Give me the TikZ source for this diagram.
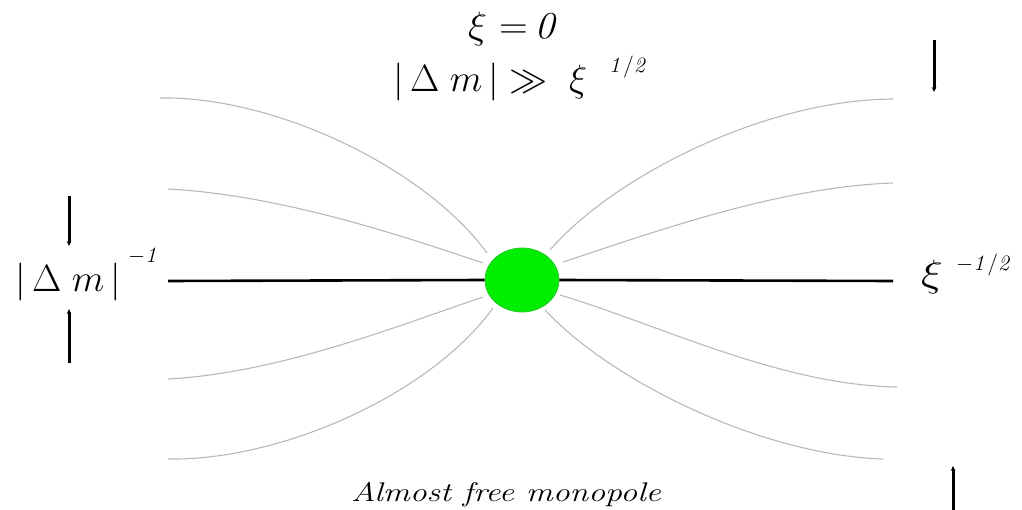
\RequirePackage{fix-cm}
\documentclass[tikz,border=0pt]{standalone}
\usepackage{graphicx}
\usetikzlibrary{arrows.meta,shapes.geometric}
\definecolor{mono}{RGB}{0,238,0}
\definecolor{monoedge}{RGB}{40,200,40}
\begin{document}
\begin{tikzpicture}[x=1pt,y=-1pt,
  field/.style={draw=black!28,line width=1.1pt},
  axis/.style={draw=black,line width=2.6pt},
  marker/.style={draw=black,line width=3pt,-{Stealth[length=5pt,width=4.5pt]}},
  lbl/.style={inner sep=0pt,font=\fontsize{38}{44}\selectfont},
  sup/.style={inner sep=0pt,font=\fontsize{22}{26}\selectfont}]
\useasboundingbox (0,0) rectangle (1022,510);
% monopole
\node[ellipse,minimum width=74pt,minimum height=64pt,inner sep=0pt,fill=mono,draw=monoedge,line width=0.8pt] (M) at (522,280) {};
% field lines
\coordinate (a1) at (160,98);  \coordinate (b1) at (487,253);
\coordinate (a2) at (168,189); \coordinate (b2) at (483,263);
\coordinate (a3) at (168,379); \coordinate (b3) at (483,297);
\coordinate (a4) at (168,459); \coordinate (b4) at (493,308);
\coordinate (c1) at (893,99);  \coordinate (d1) at (550,250);
\coordinate (c2) at (893,183); \coordinate (d2) at (563,262);
\coordinate (c3) at (897,387); \coordinate (d3) at (560,295);
\coordinate (c4) at (883,459); \coordinate (d4) at (545,310);
\draw[field] (a1) .. controls (275,96) and (425,168) .. (b1);
\draw[field] (a2) .. controls (280,195) and (400,235) .. (b2);
\draw[field] (a3) .. controls (280,373) and (400,325) .. (b3);
\draw[field] (a4) .. controls (280,461) and (430,395) .. (b4);
\draw[field] (c1) .. controls (760,100) and (610,180) .. (d1);
\draw[field] (c2) .. controls (780,187) and (660,230) .. (d2);
\draw[field] (c3) .. controls (780,385) and (660,325) .. (d3);
\draw[field] (c4) .. controls (760,455) and (610,380) .. (d4);
% axis
\coordinate (L) at (168,281);
\coordinate (R) at (893,281);
\draw[axis] (L) -- (M.west);
\draw[axis] (M.east) -- (R);
% markers
\coordinate (lt0) at (69,196); \coordinate (lt1) at (69,246);
\coordinate (lb0) at (69,363); \coordinate (lb1) at (69,309);
\coordinate (rt0) at (934,40); \coordinate (rt1) at (934,92);
\coordinate (rb0) at (953,510); \coordinate (rb1) at (953,466);
\draw[marker] (lt0) -- (lt1);
\draw[marker] (lb0) -- (lb1);
\draw[marker] (rt0) -- (rt1);
\draw[marker] (rb0) -- (rb1);
% labels
\node[lbl,anchor=base] (t1) at (514,39) {\scalebox{1.05}[1]{$\xi\ {=}\,\mathit{0}$}};
\node[lbl,anchor=base west] (t2) at (393,92) {$|\,\Delta\; m\,|\; {\gg}\;\; \xi$};
\node[sup,anchor=base west] (t2s) at (609,73) {$\mathit{1/2}$};
\node[lbl,anchor=base west] (lm) at (15,292) {$|\,\Delta\; m\,|$};
\node[sup,anchor=base west] (lms) at (128,263) {$-\mathit{1}$};
\node[lbl,anchor=base west] (rx) at (921,287) {\scalebox{1.2}[1]{$\xi$}};
\node[sup,anchor=base west] (rxs) at (956,271) {$-\mathit{1/2}$};
\node[inner sep=0pt,anchor=base,font=\fontsize{27}{32}\selectfont\itshape] (cap) at (506,501) {\scalebox{1.25}[1]{Almost free monopole}};
\end{tikzpicture}
\end{document}
